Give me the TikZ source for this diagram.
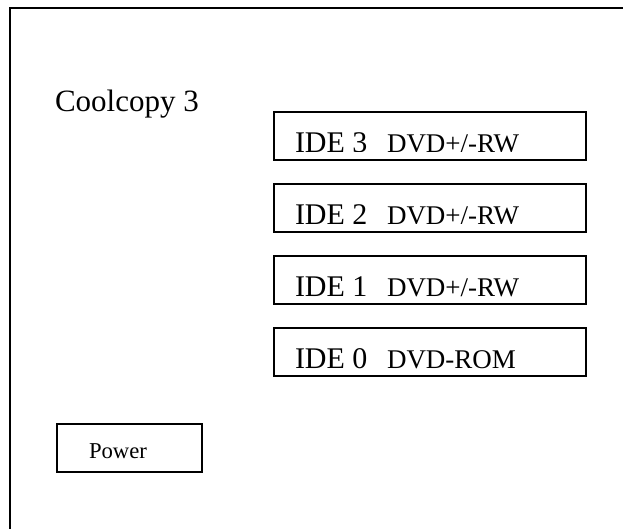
\documentclass[tikz,border=0pt]{standalone}
\usepackage{fontspec}
\setmainfont{Liberation Serif}
\usetikzlibrary{positioning}

\begin{document}
\begin{tikzpicture}[x=1pt,y=-1pt,
	  every node/.style={inner sep=0pt,outer sep=0pt},
	  frame/.style={line width=2pt,line cap=rect},
	  drive/.style={draw,line width=2pt,minimum width=312pt,minimum height=48pt},
	  powerbox/.style={draw,line width=2pt,minimum width=145pt,minimum height=48pt},
	  port/.style={anchor=base west,font=\fontsize{30}{36}\selectfont},
	  kind/.style={anchor=base west,font=\fontsize{27}{32}\selectfont},
	  title/.style={anchor=base west,font=\fontsize{31}{37}\selectfont}]

	  \useasboundingbox (0,0) rectangle (623,529);

	  % case outline (left and top edges only)
	  \coordinate (caseBL) at (10,540);
	  \coordinate (caseTL) at (10,8);
	  \coordinate (caseTR) at (640,8);
	  \draw[frame] (caseBL) -- (caseTL) -- (caseTR);

	  \node[title] (model) at (55,111.5) {Coolcopy 3};

	  % drive bays, text cut off at the bottom as in the original
	  \foreach \n/\ytop/\kind in {3/112/{DVD+/-RW},2/184/{DVD+/-RW},1/256/{DVD+/-RW},0/328/{DVD-ROM}}{
	    \pgfmathsetmacro\ycut{\ytop+40}
	    \pgfmathsetmacro\ybase{\ytop+40.5}
	    \node[drive,anchor=north west] (ide\n) at (274,\ytop) {};
	    \begin{scope}
	      \clip (274,\ytop) rectangle (586,\ycut);
	      \node[port] (port\n) at (295,\ybase) {IDE \n};
	      \node[kind] (kind\n) at (387,\ybase) {\kind};
	    \end{scope}
	  }

	  % power switch
	  \node[powerbox] (power) at (129.5,448) {};
	  \node[anchor=base west,font=\fontsize{22.7}{27}\selectfont] (powertxt) at (89,458.5) {Power};

\end{tikzpicture}
\end{document}
